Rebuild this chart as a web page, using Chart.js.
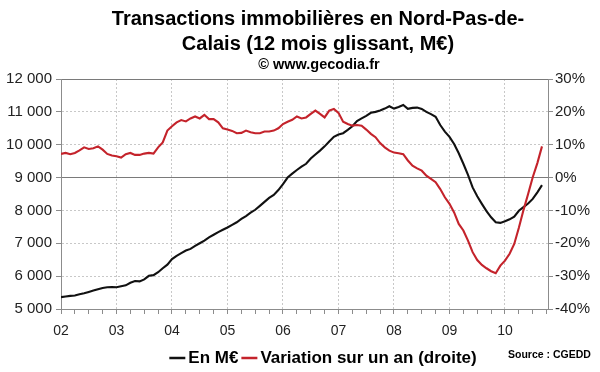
<!DOCTYPE html>
<html>
<head>
<meta charset="utf-8">
<script src="https://cdn.jsdelivr.net/npm/chart.js@4.4.0/dist/chart.umd.min.js"></script>
<style>
  body { margin: 0; background: #fff; }
  #wrap { width: 600px; height: 372px; }
</style>
</head>
<body>
<div id="wrap"><canvas id="immoChart" width="600" height="372"></canvas></div>
<script>
// months counted from Jan 2002 (index 0) to Sep 2010
var yearLabels = ['02', '03', '04', '05', '06', '07', '08', '09', '10'];
var titleLines = ['Transactions immobilières en Nord-Pas-de-', 'Calais (12 mois glissant, M€)'];
var subtitle = '© www.gecodia.fr';
var seriesNames = ['En M€', 'Variation sur un an (droite)'];
var sourceText = 'Source : CGEDD';

// 12 month rolling amount, M€ (left axis)
var enMillions = [
    5360, 5380, 5400, 5410, 5450, 5480, 5520, 5560, 5600, 5640, 5660, 5670,
    5660, 5690, 5720, 5800, 5850, 5840, 5900, 6010, 6030, 6120, 6240, 6350,
    6520, 6620, 6700, 6780, 6830, 6920, 7000, 7080, 7180, 7260, 7340, 7410,
    7480, 7560, 7640, 7740, 7830, 7930, 8020, 8140, 8260, 8380, 8470, 8620,
    8800, 9000, 9120, 9230, 9330, 9420, 9580, 9700, 9820, 9950, 10100, 10240,
    10310, 10350, 10450, 10560, 10720, 10800, 10880, 10970, 11000, 11040, 11100, 11170,
    11100, 11150, 11210, 11090, 11120, 11130, 11090, 11000, 10930, 10850, 10600, 10400,
    10240, 10020, 9740, 9420, 9080, 8700, 8430, 8200, 7980, 7790, 7640, 7620,
    7670, 7730, 7810, 7990, 8100, 8210, 8350, 8550, 8770
];

// year on year change, % (right axis)
var variation = [
    7.2, 7.5, 7.1, 7.5, 8.3, 9.2, 8.7, 8.9, 9.5, 8.5, 7.2, 6.7,
    6.5, 6.1, 7.1, 7.5, 6.9, 6.9, 7.3, 7.5, 7.3, 9.2, 10.7, 14.3,
    15.6, 16.8, 17.5, 17.1, 18.0, 18.6, 18.0, 19.1, 17.8, 17.8, 16.8, 15.0,
    14.6, 14.2, 13.5, 13.6, 14.3, 13.8, 13.5, 13.5, 14.0, 14.0, 14.3, 15.0,
    16.3, 17.0, 17.6, 18.6, 18.0, 18.3, 19.4, 20.4, 19.4, 18.3, 20.4, 20.9,
    19.7, 17.0, 16.3, 15.8, 16.0, 15.8, 14.6, 13.3, 12.3, 10.5, 9.2, 8.2,
    7.6, 7.4, 7.1, 5.2, 3.6, 2.8, 2.1, 0.6, -0.4, -1.4, -3.5, -6.0,
    -8.0, -10.6, -14.1, -16.1, -19.2, -22.7, -25.1, -26.6, -27.6, -28.5, -29.1, -26.8,
    -25.3, -23.2, -20.2, -15.3, -9.9, -5.0, 0.1, 4.4, 9.5
];

var BLACK = '#111111';
var RED = '#c4232b';
var AXIS = '#8c8c8c';
var GRID = '#c8c8c8';
var FONT = '"Liberation Sans", Arial, sans-serif';

Chart.defaults.font.family = FONT;
Chart.defaults.color = '#222';

function toPoints(arr) {
    return arr.map(function (v, i) { return { x: i, y: v }; });
}

function spaced(v) {
    return String(v).replace(/\B(?=(\d{3})+(?!\d))/g, ' ');
}

// titles, custom legend and source line
var decor = {
    id: 'decor',
    afterDraw: function (chart) {
        var c = chart.ctx;
        c.save();
        c.fillStyle = '#000';
        c.textAlign = 'center';
        c.textBaseline = 'middle';
        c.font = 'bold 20px ' + FONT;
        c.fillText(titleLines[0], 318, 19);
        c.fillText(titleLines[1], 318, 44);
        c.font = 'bold 14.5px ' + FONT;
        c.fillText(subtitle, 319, 65);

        // legend
        c.font = 'bold 17px ' + FONT;
        c.textAlign = 'left';
        var dash = 16, gap = 3;
        var w0 = c.measureText(seriesNames[0]).width;
        var w1 = c.measureText(seriesNames[1]).width;
        var total = dash + gap + w0 + gap + dash + gap + w1;
        var x = 323 - total / 2, y = 358;
        c.lineWidth = 2.5;
        c.strokeStyle = BLACK;
        c.beginPath(); c.moveTo(x, y); c.lineTo(x + dash, y); c.stroke();
        x += dash + gap;
        c.fillText(seriesNames[0], x, y);
        x += w0 + gap;
        c.strokeStyle = RED;
        c.beginPath(); c.moveTo(x, y); c.lineTo(x + dash, y); c.stroke();
        x += dash + gap;
        c.fillText(seriesNames[1], x, y);

        c.font = 'bold 10.5px ' + FONT;
        c.fillText(sourceText, 508, 355);
        c.restore();
    }
};

var ctx = document.getElementById('immoChart').getContext('2d');
var immoChart = new Chart(ctx, {
    type: 'line',
    data: {
        datasets: [{
            label: seriesNames[0],
            data: toPoints(enMillions),
            borderColor: BLACK,
            borderWidth: 2.1,
            pointRadius: 0,
            tension: 0,
            yAxisID: 'y',
            order: 1
        }, {
            label: seriesNames[1],
            data: toPoints(variation),
            borderColor: RED,
            borderWidth: 2.1,
            pointRadius: 0,
            tension: 0,
            yAxisID: 'y1',
            order: 0
        }]
    },
    options: {
        responsive: false,
        animation: false,
        layout: { padding: { top: 79, left: 0, right: 0, bottom: 0 } },
        plugins: {
            legend: { display: false },
            title: { display: false },
            tooltip: { enabled: false }
        },
        scales: {
            x: {
                type: 'linear',
                min: 0,
                max: 105.3,
                afterBuildTicks: function (scale) {
                    var t = [];
                    for (var v = 0; v <= 105; v += 3) t.push({ value: v });
                    scale.ticks = t;
                },
                afterFit: function (scale) { scale.height = 63; },
                ticks: {
                    autoSkip: false,
                    maxRotation: 0,
                    padding: 9,
                    font: { size: 14 },
                    color: '#222',
                    callback: function (v) {
                        return v % 12 === 0 ? yearLabels[v / 12] : '';
                    }
                },
                grid: {
                    color: function (c) {
                        var v = c.tick ? c.tick.value : 0;
                        return (v % 12 === 0 && v > 0) ? GRID : 'rgba(0,0,0,0)';
                    },
                    tickColor: AXIS,
                    tickLength: 5,
                    tickBorderDash: []
                },
                border: { color: AXIS, width: 1, dash: [2, 2] }
            },
            y: {
                position: 'left',
                min: 5000,
                max: 12000,
                afterFit: function (scale) { scale.width = 61; },
                ticks: {
                    stepSize: 1000,
                    padding: 4,
                    font: { size: 15 },
                    color: '#222',
                    callback: function (v) { return spaced(v); }
                },
                grid: {
                    color: function (c) {
                        var v = c.tick ? c.tick.value : 0;
                        return (v === 9000 || v === 12000) ? '#7a7a7a' : GRID;
                    },
                    tickColor: AXIS,
                    tickLength: 5,
                    tickBorderDash: []
                },
                border: {
                    color: AXIS,
                    width: 1,
                    dash: function (c) {
                        var v = c.tick ? c.tick.value : 0;
                        return (v === 9000 || v === 12000) ? [] : [2, 2];
                    }
                }
            },
            y1: {
                position: 'right',
                min: -40,
                max: 30,
                afterFit: function (scale) { scale.width = 52; },
                ticks: {
                    stepSize: 10,
                    padding: 2,
                    font: { size: 15 },
                    color: '#222',
                    callback: function (v) { return v + '%'; }
                },
                grid: {
                    drawOnChartArea: false,
                    tickColor: AXIS,
                    tickLength: 5
                },
                border: { color: AXIS, width: 1 }
            }
        }
    },
    plugins: [decor]
});
</script>
</body>
</html>
